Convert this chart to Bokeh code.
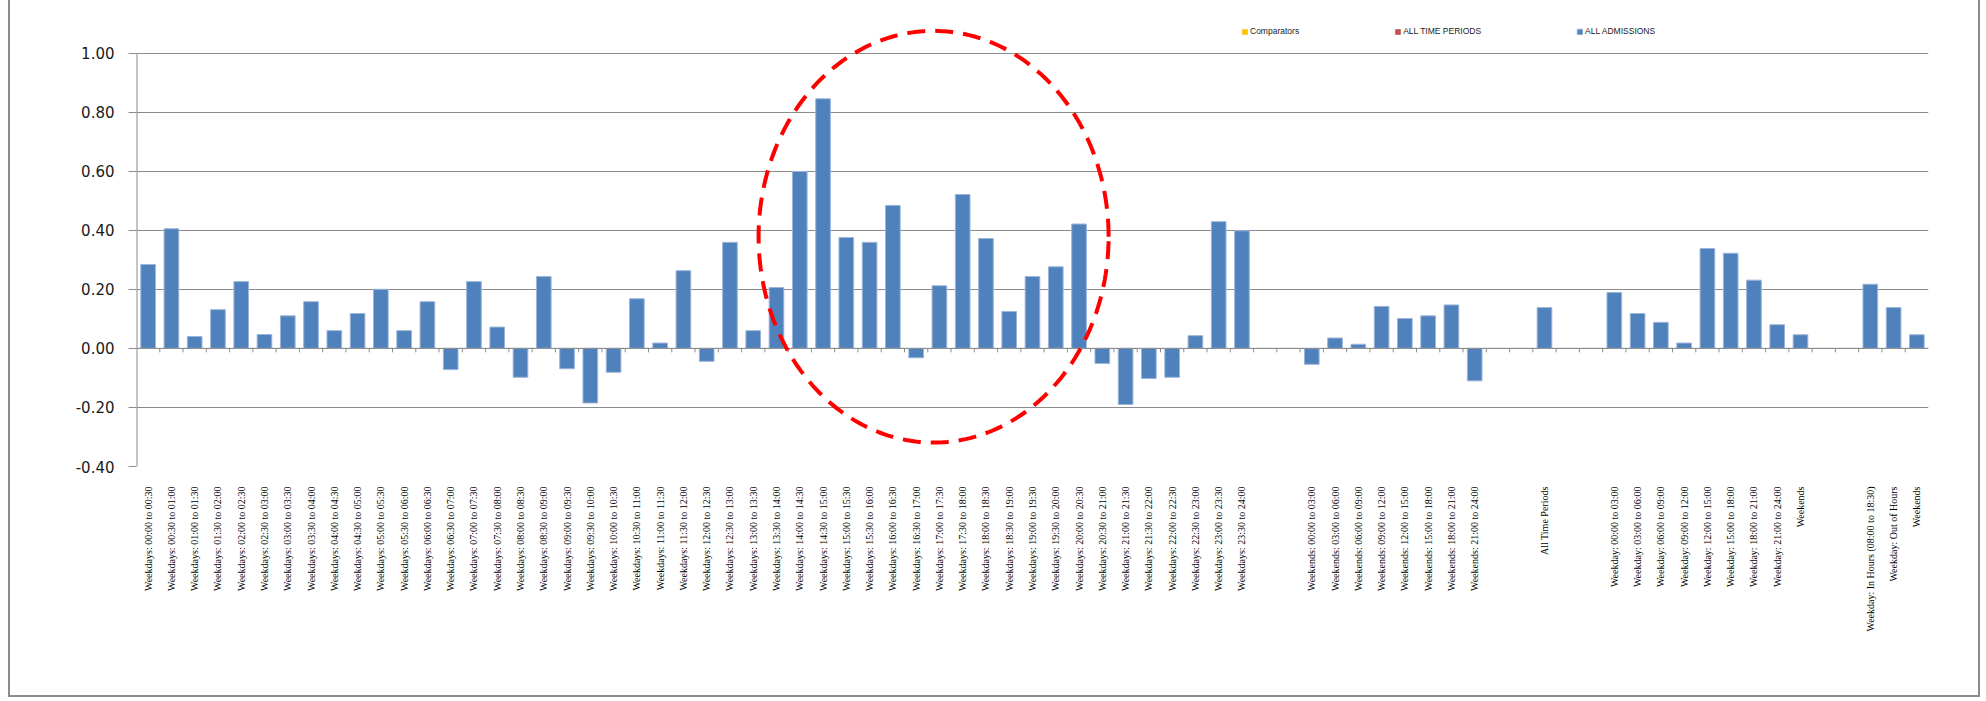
import math
from bokeh.plotting import figure
from bokeh.models import (Range1d, FixedTicker, PrintfTickFormatter, Span, Legend,
                          LegendItem, PolyAnnotation, ColumnDataSource)
from bokeh.embed import file_html
from bokeh.resources import INLINE

# ---------------- data ----------------
weekday_halfhour_labels = [
    "Weekdays: 00:00 to 00:30", "Weekdays: 00:30 to 01:00", "Weekdays: 01:00 to 01:30",
    "Weekdays: 01:30 to 02:00", "Weekdays: 02:00 to 02:30", "Weekdays: 02:30 to 03:00",
    "Weekdays: 03:00 to 03:30", "Weekdays: 03:30 to 04:00", "Weekdays: 04:00 to 04:30",
    "Weekdays: 04:30 to 05:00", "Weekdays: 05:00 to 05:30", "Weekdays: 05:30 to 06:00",
    "Weekdays: 06:00 to 06:30", "Weekdays: 06:30 to 07:00", "Weekdays: 07:00 to 07:30",
    "Weekdays: 07:30 to 08:00", "Weekdays: 08:00 to 08:30", "Weekdays: 08:30 to 09:00",
    "Weekdays: 09:00 to 09:30", "Weekdays: 09:30 to 10:00", "Weekdays: 10:00 to 10:30",
    "Weekdays: 10:30 to 11:00", "Weekdays: 11:00 to 11:30", "Weekdays: 11:30 to 12:00",
    "Weekdays: 12:00 to 12:30", "Weekdays: 12:30 to 13:00", "Weekdays: 13:00 to 13:30",
    "Weekdays: 13:30 to 14:00", "Weekdays: 14:00 to 14:30", "Weekdays: 14:30 to 15:00",
    "Weekdays: 15:00 to 15:30", "Weekdays: 15:30 to 16:00", "Weekdays: 16:00 to 16:30",
    "Weekdays: 16:30 to 17:00", "Weekdays: 17:00 to 17:30", "Weekdays: 17:30 to 18:00",
    "Weekdays: 18:00 to 18:30", "Weekdays: 18:30 to 19:00", "Weekdays: 19:00 to 19:30",
    "Weekdays: 19:30 to 20:00", "Weekdays: 20:00 to 20:30", "Weekdays: 20:30 to 21:00",
    "Weekdays: 21:00 to 21:30", "Weekdays: 21:30 to 22:00", "Weekdays: 22:00 to 22:30",
    "Weekdays: 22:30 to 23:00", "Weekdays: 23:00 to 23:30", "Weekdays: 23:30 to 24:00",
]
weekday_halfhour_values = [
    0.284, 0.405, 0.040, 0.131, 0.226, 0.047, 0.110, 0.158, 0.060, 0.118,
    0.200, 0.060, 0.158, -0.072, 0.226, 0.072, -0.098, 0.243, -0.069, -0.185,
    -0.081, 0.168, 0.018, 0.263, -0.044, 0.359, 0.060, 0.206, 0.599, 0.845,
    0.375, 0.359, 0.484, -0.032, 0.212, 0.521, 0.372, 0.125, 0.243, 0.276,
    0.421, -0.051, -0.190, -0.102, -0.098, 0.043, 0.429, 0.398,
]
weekend_3h_labels = [
    "Weekends: 00:00 to 03:00", "Weekends: 03:00 to 06:00", "Weekends: 06:00 to 09:00",
    "Weekends: 09:00 to 12:00", "Weekends: 12:00 to 15:00", "Weekends: 15:00 to 18:00",
    "Weekends: 18:00 to 21:00", "Weekends: 21:00 to 24:00",
]
weekend_3h_values = [-0.054, 0.035, 0.014, 0.142, 0.101, 0.110, 0.147, -0.110]
all_time_labels = ["All Time Periods"]
all_time_values = [0.138]
weekday_3h_labels = [
    "Weekday: 00:00 to 03:00", "Weekday: 03:00 to 06:00", "Weekday: 06:00 to 09:00",
    "Weekday: 09:00 to 12:00", "Weekday: 12:00 to 15:00", "Weekday: 15:00 to 18:00",
    "Weekday: 18:00 to 21:00", "Weekday: 21:00 to 24:00", "Weekends",
]
weekday_3h_values = [0.189, 0.118, 0.088, 0.018, 0.338, 0.322, 0.231, 0.080, 0.046]
summary_labels = ["Weekday: In Hours (08:00 to 18:30)", "Weekday: Out of Hours", "Weekends"]
summary_values = [0.217, 0.138, 0.046]

gap_labels = ["", ""]
gap_values = [None, None]

y_ticks = [-0.4, -0.2, 0.0, 0.2, 0.4, 0.6, 0.8, 1.0]
y_axis_min, y_axis_max = -0.4, 1.0

series_names = ["Comparators", "ALL TIME PERIODS", "ALL ADMISSIONS"]
series_colors = ["#FFC000", "#C0504D", "#4F81BD"]

# highlighted region (centre category index / value, radii)
highlight_center = (33.75, 0.378)
highlight_radii = (7.52, 0.697)

# ---------------- assemble ----------------
groups = [
    (weekday_halfhour_labels, weekday_halfhour_values),
    (gap_labels, gap_values),
    (weekend_3h_labels, weekend_3h_values),
    (gap_labels, gap_values),
    (all_time_labels, all_time_values),
    (gap_labels, gap_values),
    (weekday_3h_labels, weekday_3h_values),
    (gap_labels, gap_values),
    (summary_labels, summary_values),
]
categories, values = [], []
for labs, vals in groups:
    categories += labs
    values += vals

n = len(categories)
xs = [i for i, v in enumerate(values) if v is not None]
tops = [values[i] for i in xs]
src = ColumnDataSource(dict(x=xs, top=tops))

GRID = "#8c8c8c"
PX_PER_UNIT = 413.5 / (y_axis_max - y_axis_min)
headroom = 32.5 / PX_PER_UNIT  # space above 1.00 for legend / annotation

p = figure(width=1972, height=697, output_backend="svg", toolbar_location=None,
           x_range=Range1d(-0.5, n - 0.5),
           y_range=Range1d(y_axis_min, y_axis_max + headroom),
           min_border_left=126, min_border_right=54, min_border_top=20,
           min_border_bottom=231)
p.outline_line_color = None
p.background_fill_color = "white"
p.border_fill_color = "white"
p.styles = {"margin-left": "8px",
            "border-left": "2px solid #8c8c8c",
            "border-right": "2px solid #8c8c8c",
            "border-bottom": "2px solid #8c8c8c"}

bars = p.vbar(x="x", top="top", bottom=0, width=0.63, source=src,
              fill_color=series_colors[2], line_color="#9BB5D8", line_width=1)
# series with no visible bars (zero height) -- kept for the legend
empty_src = ColumnDataSource(dict(x=[xs[0]], top=[0.0]))
r_comp = p.vbar(x="x", top="top", bottom=0, width=0.5, source=empty_src,
                fill_color=series_colors[0], line_color=None)
r_atp = p.vbar(x="x", top="top", bottom=0, width=0.5, source=empty_src,
               fill_color=series_colors[1], line_color=None)

# value axis line (only between -0.40 and 1.00)
p.segment(x0=[-0.5], y0=[y_axis_min], x1=[-0.5], y1=[y_axis_max],
          line_color=GRID, line_width=2)

# category axis line at zero with tick marks between categories
p.add_layout(Span(location=0, dimension="width", line_color=GRID, line_width=1))
tick_len = 4 / PX_PER_UNIT
bounds = [i + 0.5 for i in range(n - 1)]
p.segment(x0=bounds, y0=[0] * len(bounds), x1=bounds, y1=[-tick_len] * len(bounds),
          line_color=GRID, line_width=1)

# x axis labels
p.xaxis.ticker = FixedTicker(ticks=xs)
p.xaxis.major_label_overrides = {i: categories[i] for i in xs}
p.xaxis.major_label_orientation = math.pi / 2
p.xaxis.axis_line_color = None
p.xaxis.major_tick_line_color = None
p.xaxis.minor_tick_line_color = None
p.xaxis.major_label_standoff = 14
p.xaxis.major_label_text_font = "Liberation Serif"
p.xaxis.major_label_text_font_size = "10px"
p.xaxis.major_label_text_color = "#000000"
p.xgrid.grid_line_color = None

# y axis
p.yaxis.ticker = FixedTicker(ticks=y_ticks)
p.yaxis.formatter = PrintfTickFormatter(format="%.2f")
p.yaxis.axis_line_color = None
p.yaxis.major_tick_line_color = GRID
p.yaxis.major_tick_out = 8
p.yaxis.major_tick_in = 0
p.yaxis.minor_tick_line_color = None
p.yaxis.major_label_standoff = 14
p.yaxis.major_label_text_font = "DejaVu Sans"
p.yaxis.major_label_text_font_size = "15px"
p.yaxis.major_label_text_color = "#1a1a1a"
p.ygrid.ticker = FixedTicker(ticks=y_ticks)
p.ygrid.grid_line_color = GRID
p.ygrid.grid_line_width = 1

# legend
legend = Legend(items=[LegendItem(label=series_names[0], renderers=[r_comp]),
                       LegendItem(label=series_names[1], renderers=[r_atp]),
                       LegendItem(label=series_names[2], renderers=[bars])],
                orientation="horizontal", location=(1105, 430), spacing=95,
                glyph_width=7, glyph_height=7, label_standoff=2, padding=0, margin=0,
                border_line_color=None, background_fill_alpha=0,
                label_text_font="Liberation Sans", label_text_font_size="8.5px",
                label_height=8, label_text_color="#1a1a1a")
p.add_layout(legend, "center")

# dashed highlight ellipse
steps = 240
ex = [highlight_center[0] + highlight_radii[0] * math.cos(2 * math.pi * k / steps) for k in range(steps)]
ey = [highlight_center[1] + highlight_radii[1] * math.sin(2 * math.pi * k / steps) for k in range(steps)]
p.add_layout(PolyAnnotation(xs=ex, ys=ey, fill_color=None, fill_alpha=0,
                            line_color="#FF0000", line_alpha=1.0, line_width=4,
                            line_dash="18 10"))

open("out.html", "w").write(file_html(p, INLINE))
